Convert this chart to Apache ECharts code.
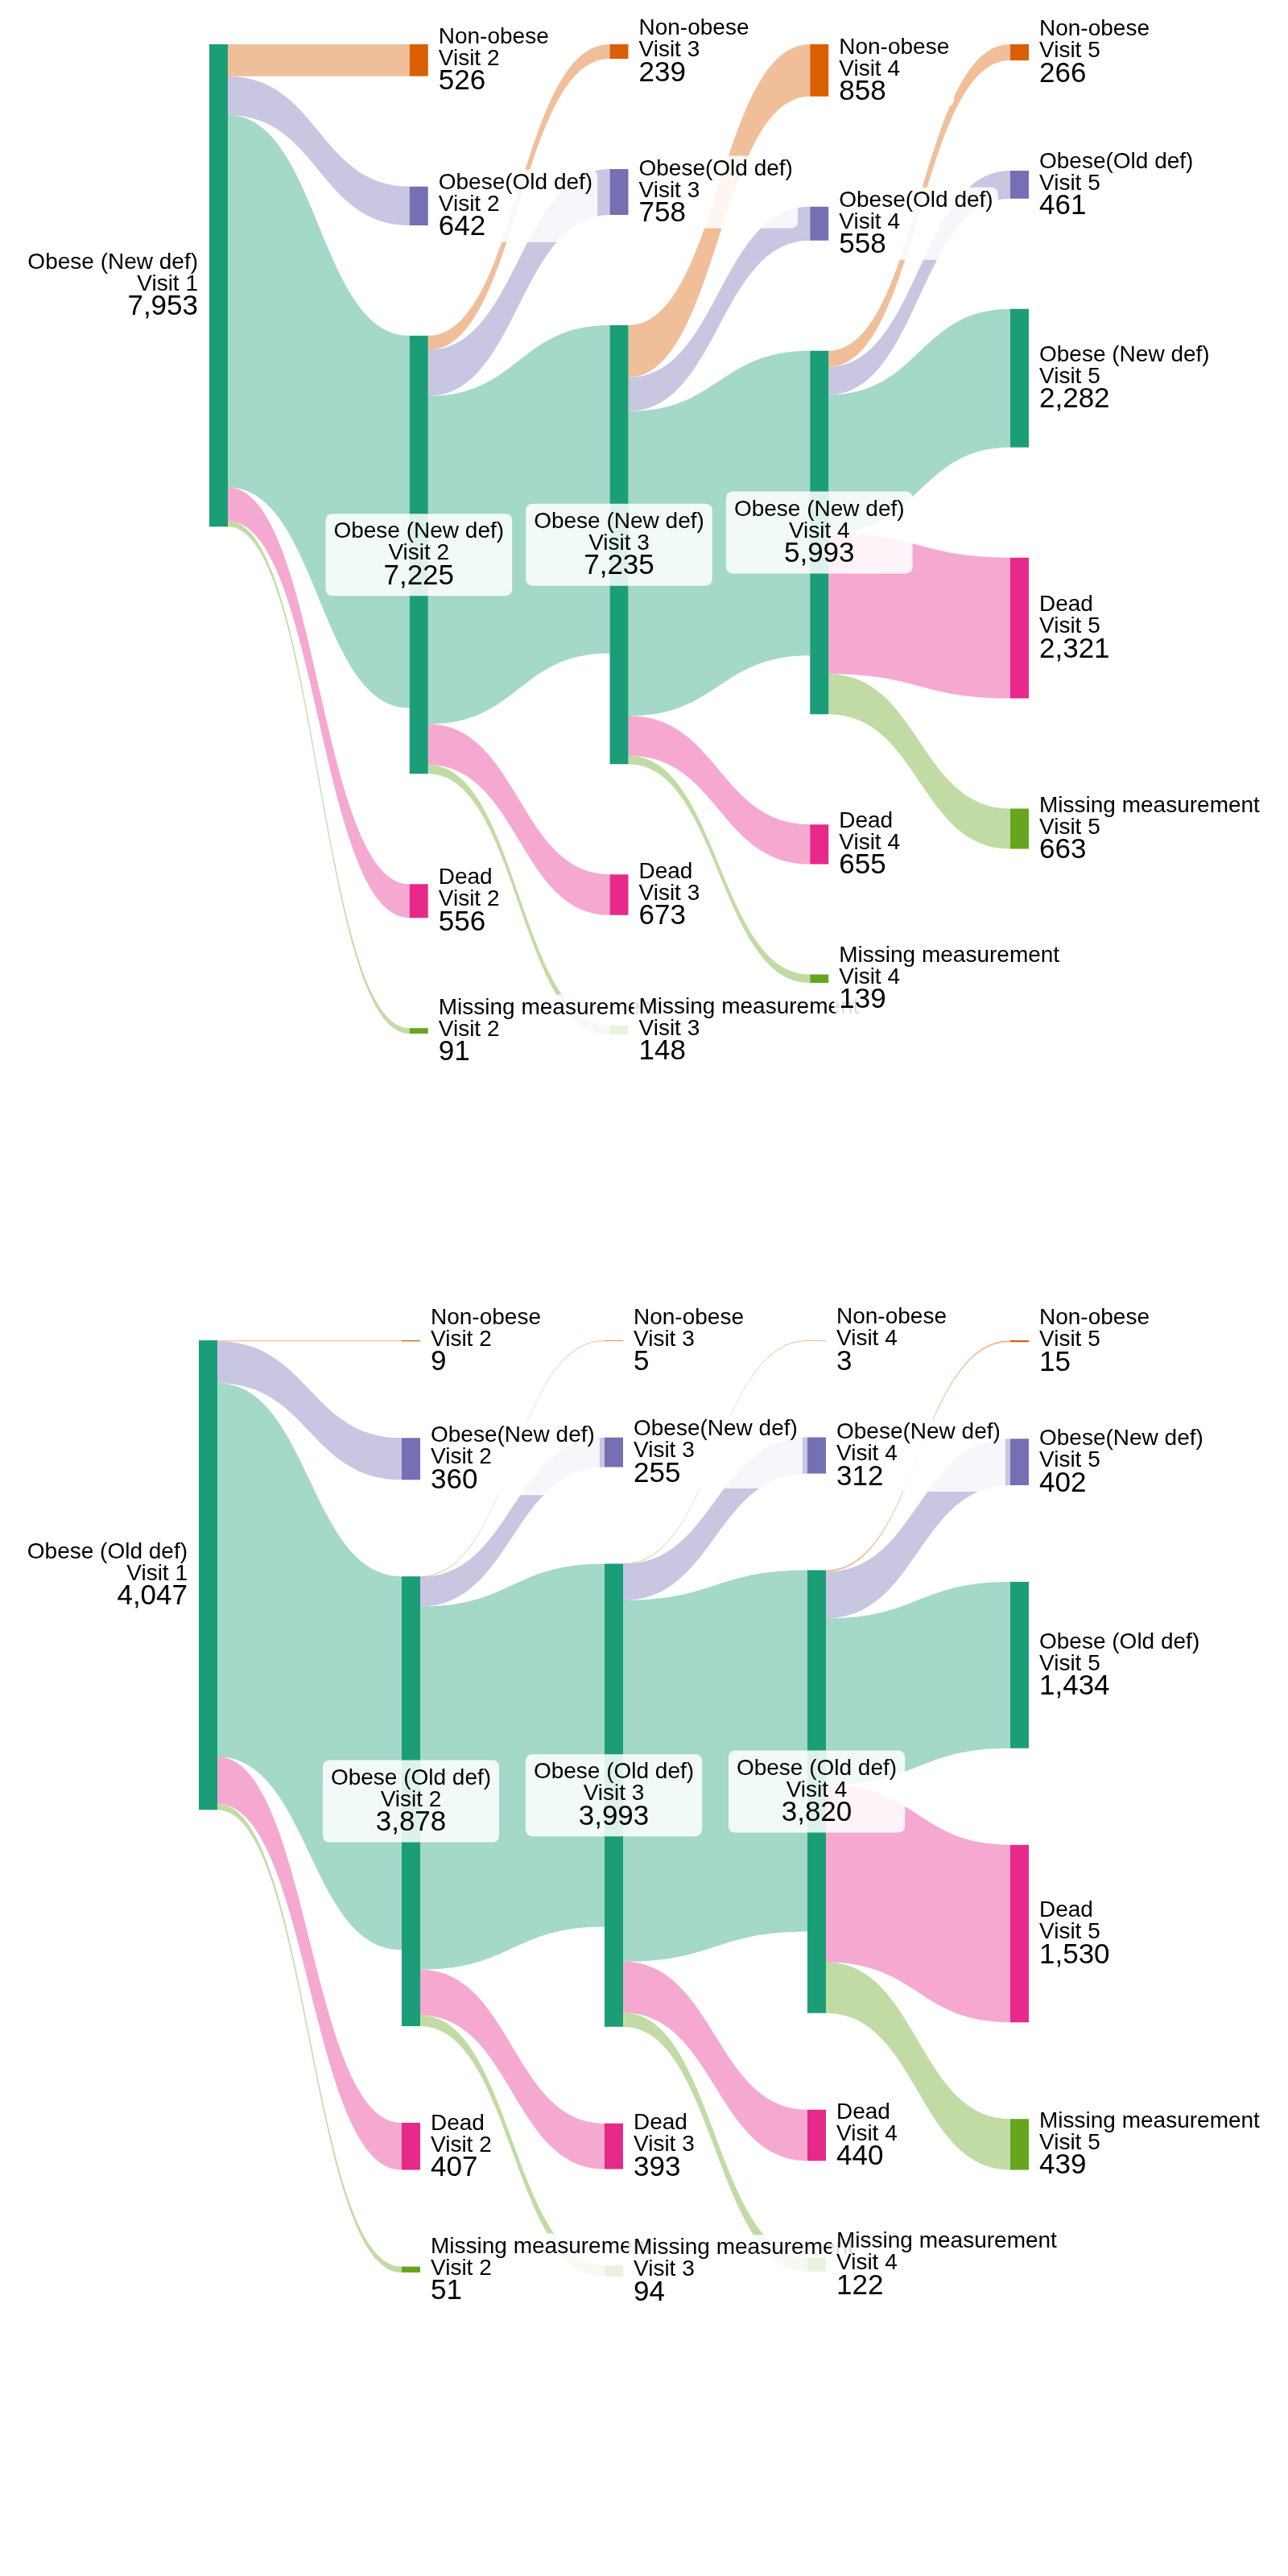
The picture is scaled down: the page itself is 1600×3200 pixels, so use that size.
<!DOCTYPE html>
<html><head><meta charset="utf-8">
<script src="https://cdn.jsdelivr.net/npm/echarts@6/dist/echarts.min.js"></script>
<style>html,body{margin:0;background:#fff}#c{width:1600px;height:3200px}</style>
</head><body><div id="c"></div>
<script>
const visits = ['Visit 1', 'Visit 2', 'Visit 3', 'Visit 4', 'Visit 5'];

// ---- Chart 1: cohort obese by the new definition at visit 1
const topCats = ['Non-obese', 'Obese(Old def)', 'Obese (New def)', 'Dead', 'Missing measurement'];
// flows from the main node at visit k to each category at visit k+1
const topNonObese   = [526, 239, 858, 266];
const topOtherObese = [642, 758, 558, 461];
const topStayObese  = [6138, 5407, 5025, 2282];
const topDead       = [556, 673, 655, 2321];
const topMissing    = [91, 148, 139, 663];

// ---- Chart 2: cohort obese by the old definition at visit 1
const botCats = ['Non-obese', 'Obese(New def)', 'Obese (Old def)', 'Dead', 'Missing measurement'];
const botNonObese   = [9, 5, 3, 15];
const botOtherObese = [360, 255, 312, 402];
const botStayObese  = [3220, 3131, 3116, 1434];
const botDead       = [407, 393, 440, 1530];
const botMissing    = [51, 94, 122, 439];

const catColors = ['#d95f02', '#7570b3', '#1b9e77', '#e7298a', '#66a61e'];

function build(cats, flows) {
  const mainIdx = 2;
  const id = (c, v) => cats[c] + '\n' + visits[v];
  const links = [];
  for (let v = 0; v < 4; v++) {
    for (let c = 0; c < 5; c++) {
      links.push({ source: id(mainIdx, v), target: id(c, v + 1), value: flows[c][v] });
    }
  }
  const inSum = {}, outSum = {};
  links.forEach(l => {
    outSum[l.source] = (outSum[l.source] || 0) + l.value;
    inSum[l.target] = (inSum[l.target] || 0) + l.value;
  });
  const nodes = [];
  for (let v = 0; v < 5; v++) {
    for (let c = 0; c < 5; c++) {
      if (v === 0 && c !== mainIdx) continue;
      const name = id(c, v);
      const value = Math.max(inSum[name] || 0, outSum[name] || 0);
      let label = { position: 'right', distance: 7, padding: [3, 6] };
      if (c === mainIdx && v === 0) label = { position: 'left', distance: 8, padding: [3, 6] };
      else if (c === mainIdx && v < 4) label = { position: 'inside', padding: [9, 10] };
      nodes.push({ name, value, depth: v, itemStyle: { color: catColors[c] }, label });
    }
  }
  return { nodes, links };
}

const g1 = build(topCats, [topNonObese, topOtherObese, topStayObese, topDead, topMissing]);
const g2 = build(botCats, [botNonObese, botOtherObese, botStayObese, botDead, botMissing]);

const labelCommon = {
  show: true,
  color: '#000',
  fontFamily: '"Liberation Sans", Arial, Helvetica, sans-serif',
  backgroundColor: 'rgba(255,255,255,0.86)',
  borderRadius: 8,
  textBorderWidth: 0,
  formatter: p => {
    const [cat, v] = p.name.split('\n');
    return '{t|' + cat + '}\n{t|' + v + '}\n{n|' + Number(p.value).toLocaleString('en-US') + '}';
  },
  rich: {
    t: { fontSize: 28, lineHeight: 27, color: '#000', fontFamily: '"Liberation Sans", Arial, sans-serif' },
    n: { fontSize: 35, lineHeight: 30, color: '#000', fontFamily: '"Liberation Sans", Arial, sans-serif' }
  }
};

function series(g, pos) {
  return Object.assign({
    type: 'sankey',
    nodeWidth: 23,
    nodeAlign: 'left',
    layoutIterations: 0,
    draggable: false,
    emphasis: { disabled: true },
    data: g.nodes,
    links: g.links,
    itemStyle: { borderWidth: 0, opacity: 1 },
    lineStyle: { color: 'target', opacity: 0.4, curveness: 0.5 },
    label: labelCommon
  }, pos);
}

const chart = echarts.init(document.getElementById('c'), null, { renderer: 'canvas' });
chart.setOption({
  backgroundColor: '#fff',
  animation: false,
  series: [
    series(g1, { left: 260, width: 1018, top: 55, height: 1230, nodeGap: 137 }),
    series(g2, { left: 247, width: 1031, top: 1665, height: 1163, nodeGap: 120 })
  ]
});
</script></body></html>
